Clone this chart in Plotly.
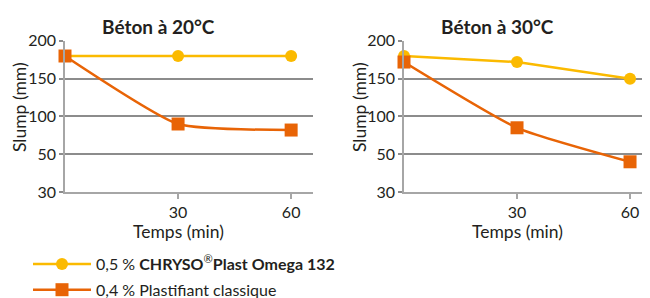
import plotly.graph_objects as go

# ---- data ----
temps = [0, 30, 60]
omega_20 = [180, 180, 180]
classique_20 = [180, 90, 82]
omega_30 = [180, 172, 150]
classique_30 = [172, 85, 46]
y_tick_values = [30, 50, 100, 150, 200]
x_tick_values = [30, 60]
series_names = ["0,5 % <b>CHRYSO</b><sup>®</sup><b>Plast Omega 132</b>",
                "0,4 % Plastifiant classique"]
titles = ["Béton à 20°C", "Béton à 30°C"]

YELLOW = "#FBBA00"
ORANGE = "#E86406"
TXT = "#231F20"
GRID = "#8C8C8C"
AX = "#A6A6A6"
FONT = "Lato"


def scale(v):
    # piecewise axis: 30-50 and 50-200 are drawn with equal step spacing
    return (v - 30) / 20 if v < 50 else 1 + (v - 50) / 50


# page body has an 8px margin; figure sized so it fills the 650x298 window
OFF = 8
W, H = 650 - OFF, 298 - OFF


def px(x):
    return (x - OFF) / W


def py(y):
    return 1 - (y - OFF) / H


fig = go.Figure()

panels = [(omega_20, classique_20, "x", "y"), (omega_30, classique_30, "x2", "y2")]
for i, (om, cl, xa, ya) in enumerate(panels):
    fig.add_trace(go.Scatter(
        x=temps, y=[scale(v) for v in om], xaxis=xa, yaxis=ya,
        mode="lines+markers", name=series_names[0], showlegend=(i == 0),
        legendgroup="a", line=dict(color=YELLOW, width=2.5), cliponaxis=False,
        marker=dict(symbol="circle", size=12, color=YELLOW)))
    fig.add_trace(go.Scatter(
        x=temps, y=[scale(v) for v in cl], xaxis=xa, yaxis=ya,
        mode="lines+markers", name=series_names[1], showlegend=(i == 0),
        legendgroup="b",
        line=dict(color=ORANGE, width=2.5, shape="spline", smoothing=0.5),
        cliponaxis=False,
        marker=dict(symbol="square", size=13, color=ORANGE)))

ybot = py(192)
ytop = py(40.7)
xdomains = [[px(65), px(313)], [px(404), 1.0]]
xmax = [65.8, 65.3]

common_x = dict(tickvals=x_tick_values, ticktext=[str(v) for v in x_tick_values],
                showgrid=False, zeroline=False, showline=True, linecolor=AX,
                linewidth=1.5, ticks="outside", ticklen=5, tickcolor=AX,
                tickwidth=1.5, tickfont=dict(family=FONT, size=16, color=TXT),
                automargin=False)
common_y = dict(tickvals=[scale(v) for v in y_tick_values],
                ticktext=[str(v) for v in y_tick_values],
                range=[0, 4.005], showgrid=True, gridcolor=GRID, gridwidth=2,
                zeroline=False, showline=True, linecolor=AX, linewidth=1.5,
                ticks="outside", ticklen=4, tickcolor=GRID, tickwidth=2,
                tickfont=dict(family=FONT, size=16, color=TXT), automargin=False)

fig.update_layout(
    width=W, height=H, margin=dict(l=0, r=0, t=0, b=0, autoexpand=False),
    paper_bgcolor="white", plot_bgcolor="white",
    xaxis=dict(domain=xdomains[0], range=[0, xmax[0]], anchor="y", **common_x),
    yaxis=dict(domain=[ybot, ytop], anchor="x", **common_y),
    xaxis2=dict(domain=xdomains[1], range=[0, xmax[1]], anchor="y2", **common_x),
    yaxis2=dict(domain=[ybot, ytop], anchor="x2", **common_y),
    showlegend=True,
    legend=dict(x=px(28), y=py(247), xanchor="left", yanchor="top",
                font=dict(family=FONT, size=16, color=TXT),
                bgcolor="rgba(0,0,0,0)", tracegroupgap=2, itemwidth=58),
)

ann = []
for i, (t, cx) in enumerate(zip(titles, [158, 497])):
    ann.append(dict(text="<b>" + t + "</b>", x=px(cx), y=py(26), xref="paper",
                    yref="paper", showarrow=False, xanchor="center", yanchor="middle",
                    font=dict(family=FONT, size=19, color=TXT)))
for cx in [19, 359]:
    ann.append(dict(text="Slump (mm)", x=px(cx), y=py(107), xref="paper",
                    yref="paper", showarrow=False, textangle=-90,
                    xanchor="center", yanchor="middle",
                    font=dict(family=FONT, size=17.5, color=TXT)))
for xr in ["x", "x2"]:
    ann.append(dict(text="Temps (min)", x=30, y=py(231), xref=xr,
                    yref="paper", showarrow=False, xanchor="center",
                    yanchor="middle", font=dict(family=FONT, size=17.5, color=TXT)))
fig.update_layout(annotations=ann)

fig.write_html("out.html")
